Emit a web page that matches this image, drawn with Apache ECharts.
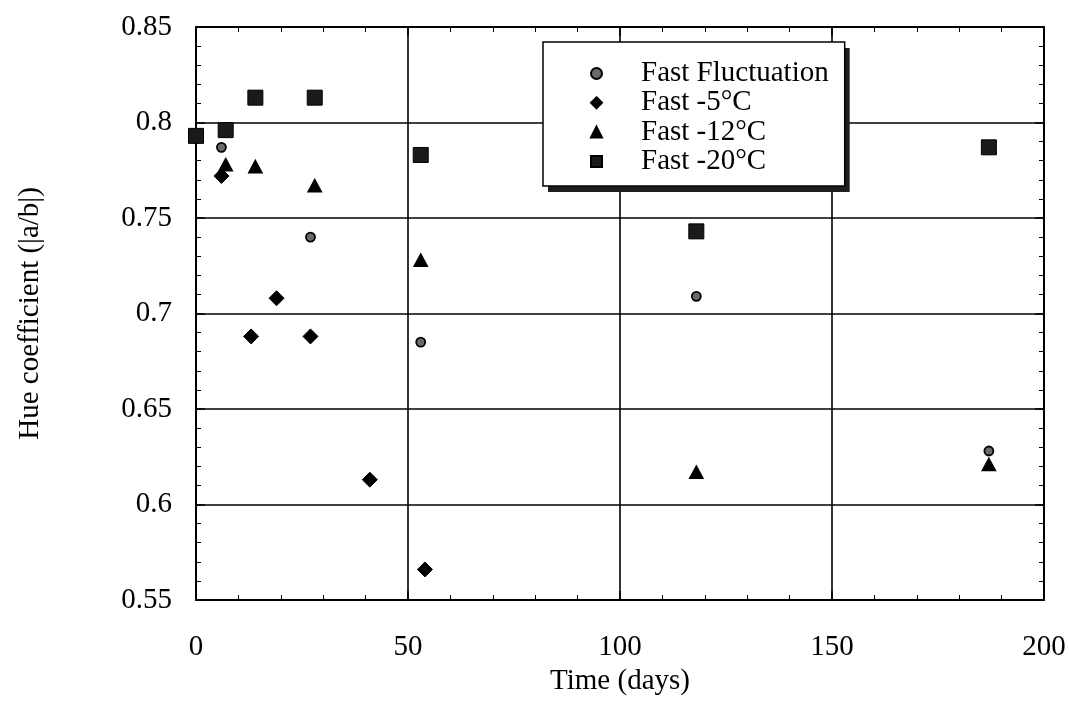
<!DOCTYPE html>
<html>
<head>
<meta charset="utf-8">
<script src="https://cdn.jsdelivr.net/npm/echarts@6/dist/echarts.min.js"></script>
<style>
html,body{margin:0;padding:0;background:#fff;}
#chart{width:1069px;height:705px;}
</style>
</head>
<body>
<div id="chart"></div>
<script>
// ---- data ----
const seriesNames = ['Fast Fluctuation', 'Fast -5°C', 'Fast -12°C', 'Fast -20°C'];
const fluctDays = [6, 27, 53, 118, 187];
const fluctHue  = [0.787, 0.740, 0.685, 0.709, 0.628];
const m5Days = [6, 13, 19, 27, 41, 54];
const m5Hue  = [0.772, 0.688, 0.708, 0.688, 0.613, 0.566];
const m12Days = [7, 14, 28, 53, 118, 187];
const m12Hue  = [0.778, 0.777, 0.767, 0.728, 0.617, 0.621];
const m20Days = [0, 7, 14, 28, 53, 118, 187];
const m20Hue  = [0.793, 0.796, 0.813, 0.813, 0.783, 0.743, 0.787];
const xMin = 0, xMax = 200, xStep = 50;
const yMin = 0.55, yMax = 0.85, yStep = 0.05;
const xTitle = 'Time (days)';
const yTitle = 'Hue coefficient (|a/b|)';

const FONT = 'Liberation Serif';
const FS = 29;
const pairs = (xs, ys) => xs.map((x, i) => [x, ys[i]]);

const chart = echarts.init(document.getElementById('chart'));

function baseAxis(extra) {
  return Object.assign({
    axisLine: { show: true, onZero: false, lineStyle: { color: '#000', width: 2 } },
    axisTick: { show: true, inside: true, length: 9, lineStyle: { color: '#000', width: 1.5 } },
    minorTick: { show: true, splitNumber: 5, length: 5, lineStyle: { color: '#000', width: 1 } },
    splitLine: { show: false },
    axisLabel: { show: false }
  }, extra);
}

const legendBase = {
  orient: 'vertical',
  left: 543, top: 42,
  padding: [17, 16, 10, 47],
  itemWidth: 11, itemHeight: 11, itemGap: 0.3,
  selectedMode: false,
  data: seriesNames
};
const legendText = { fontFamily: FONT, fontSize: FS, lineHeight: 28, padding: [0, 0, 0, 34] };

const option = {
  backgroundColor: '#fff',
  animation: false,
  grid: { left: 196, top: 27, width: 848, height: 573, containLabel: false },
  legend: [
    Object.assign({}, legendBase, {
      z: 10,
      backgroundColor: '#fff', borderWidth: 0,
      shadowColor: '#1e1e1e', shadowBlur: 0, shadowOffsetX: 5, shadowOffsetY: 6,
      textStyle: Object.assign({ color: '#000' }, legendText)
    }),
    Object.assign({}, legendBase, {
      z: 11,
      backgroundColor: 'transparent', borderColor: '#000', borderWidth: 1.5,
      itemStyle: { opacity: 0 },
      textStyle: Object.assign({ color: 'rgba(0,0,0,0)' }, legendText)
    })
  ],
  xAxis: [
    baseAxis({
      type: 'value', position: 'bottom', min: xMin, max: xMax, interval: xStep,
      name: xTitle, nameLocation: 'middle', nameGap: 65,
      nameTextStyle: { fontFamily: FONT, fontSize: FS, color: '#000' },
      axisLabel: { show: true, margin: 33, fontFamily: FONT, fontSize: FS, color: '#000' },
      splitLine: { show: true, lineStyle: { color: '#000', width: 1.6 } }
    }),
    baseAxis({ type: 'value', position: 'top', min: xMin, max: xMax, interval: xStep })
  ],
  yAxis: [
    baseAxis({
      type: 'value', position: 'left', min: yMin, max: yMax, interval: yStep,
      name: yTitle, nameLocation: 'middle', nameGap: 151,
      nameTextStyle: { fontFamily: FONT, fontSize: FS, color: '#000' },
      axisLabel: { show: true, margin: 24, fontFamily: FONT, fontSize: FS, color: '#000',
        formatter: v => String(+v.toFixed(2)) },
      splitLine: { show: true, lineStyle: { color: '#000', width: 1.6 } }
    }),
    baseAxis({ type: 'value', position: 'right', min: yMin, max: yMax, interval: yStep })
  ],
  series: [
    {
      name: seriesNames[3], type: 'scatter', clip: false, z: 2,
      symbol: 'rect', symbolSize: 15,
      itemStyle: { color: '#1a1a1a', borderColor: '#000', borderWidth: 1, opacity: 1 },
      data: pairs(m20Days, m20Hue)
    },
    {
      name: seriesNames[1], type: 'scatter', clip: false, z: 3,
      symbol: 'diamond', symbolSize: 15,
      itemStyle: { color: '#000', borderColor: '#000', borderWidth: 1, opacity: 1 },
      data: pairs(m5Days, m5Hue)
    },
    {
      name: seriesNames[2], type: 'scatter', clip: false, z: 4,
      symbol: 'triangle', symbolSize: [14, 13],
      itemStyle: { color: '#000', borderColor: '#000', borderWidth: 1, opacity: 1 },
      data: pairs(m12Days, m12Hue)
    },
    {
      name: seriesNames[0], type: 'scatter', clip: false, z: 5,
      symbol: 'circle', symbolSize: 9,
      itemStyle: { color: '#6a6a6a', borderColor: '#000', borderWidth: 1.8, opacity: 1 },
      data: pairs(fluctDays, fluctHue)
    }
  ]
};
chart.setOption(option);
</script>
</body>
</html>
